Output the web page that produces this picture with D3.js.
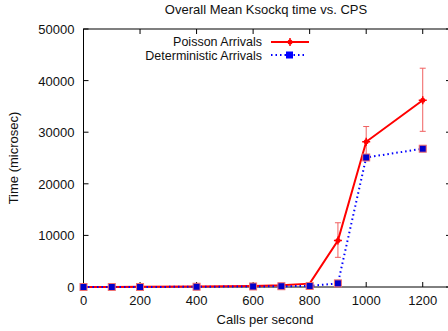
<!DOCTYPE html>
<html>
<head>
<meta charset="utf-8">
<script src="https://cdn.jsdelivr.net/npm/d3@7"></script>
<style>
body { margin: 0; background: #fff; }
text { font-family: "Liberation Sans", Arial, sans-serif; font-size: 13px; fill: #111; }
text.legend { font-size: 12.5px; }
</style>
</head>
<body>
<div id="chart"></div>
<script>
var width = 448;
var height = 331;
var margin = {top: 29, right: -3, bottom: 44, left: 83.5};
var w = width - margin.left - margin.right;
var h = height - margin.top - margin.bottom;

var cps = [0, 100, 200, 400, 600, 700, 800, 900, 1000, 1200];
var poisson = [0, 0, 50, 100, 200, 350, 650, 9000, 28150, 36200];
var poissonLow = [0, 0, 0, 0, 0, 0, 0, 5750, 25300, 30170];
var poissonHigh = [0, 0, 0, 0, 0, 0, 0, 12450, 31100, 42400];
var determ = [0, 0, 0, 50, 100, 150, 200, 700, 25100, 26800];
var xTicks = [0, 200, 400, 600, 800, 1000, 1200];
var yTicks = [0, 10000, 20000, 30000, 40000, 50000];

var x = d3.scaleLinear().domain([0, 1300]).range([0, w]);
var y = d3.scaleLinear().domain([0, 50000]).range([h, 0]);

var svg = d3.select("#chart").append("svg")
  .attr("width", width)
  .attr("height", height);

var g = svg.append("g")
  .attr("transform", "translate(" + margin.left + "," + margin.top + ")");

// frame
g.append("rect")
  .attr("x", 0).attr("y", 0).attr("width", w).attr("height", h)
  .attr("fill", "none").attr("stroke", "#000").attr("stroke-width", 1);

// ticks (inward, mirrored)
xTicks.forEach(function(t) {
  g.append("line").attr("x1", x(t)).attr("x2", x(t)).attr("y1", h).attr("y2", h - 5).attr("stroke", "#000");
  g.append("line").attr("x1", x(t)).attr("x2", x(t)).attr("y1", 0).attr("y2", 5).attr("stroke", "#000");
  g.append("text").attr("x", x(t)).attr("y", h + 18).attr("text-anchor", "middle").text(t);
});
yTicks.forEach(function(t) {
  g.append("line").attr("x1", 0).attr("x2", 5).attr("y1", y(t)).attr("y2", y(t)).attr("stroke", "#000");
  g.append("line").attr("x1", w).attr("x2", w - 5).attr("y1", y(t)).attr("y2", y(t)).attr("stroke", "#000");
  g.append("text").attr("x", -9).attr("y", y(t) + 5).attr("text-anchor", "end").text(t);
});

// labels
svg.append("text").attr("x", 266).attr("y", 14).attr("text-anchor", "middle").text("Overall Mean Ksockq time vs. CPS");
svg.append("text").attr("x", 265).attr("y", 324).attr("text-anchor", "middle").text("Calls per second");
svg.append("text").attr("transform", "translate(18," + (margin.top + h / 2) + ") rotate(-90)")
  .attr("text-anchor", "middle").text("Time (microsec)");

var pData = cps.map(function(c, i) { return {x: c, y: poisson[i], lo: poissonLow[i], hi: poissonHigh[i]}; });
var dData = cps.map(function(c, i) { return {x: c, y: determ[i]}; });

var line = d3.line().x(function(d) { return x(d.x); }).y(function(d) { return y(d.y); });

// error bars
pData.filter(function(d) { return d.hi > 0; }).forEach(function(d) {
  var ge = g.append("g").attr("stroke", "#f06060").attr("stroke-width", 1);
  ge.append("line").attr("x1", x(d.x)).attr("x2", x(d.x)).attr("y1", y(d.lo)).attr("y2", y(d.hi));
  ge.append("line").attr("x1", x(d.x) - 3).attr("x2", x(d.x) + 3).attr("y1", y(d.lo)).attr("y2", y(d.lo));
  ge.append("line").attr("x1", x(d.x) - 3).attr("x2", x(d.x) + 3).attr("y1", y(d.hi)).attr("y2", y(d.hi));
});

g.append("path").datum(pData).attr("d", line)
  .attr("fill", "none").attr("stroke", "#ff0000").attr("stroke-width", 2);
g.append("path").datum(dData).attr("d", line)
  .attr("fill", "none").attr("stroke", "#0000ff").attr("stroke-width", 2).attr("stroke-dasharray", "1.5,3");

function poissonMark(sel, cx, cy) {
  sel.append("circle").attr("cx", cx).attr("cy", cy).attr("r", 2.5).attr("fill", "#ff0000");
  sel.append("path").attr("d", "M" + (cx - 4) + "," + cy + "h8M" + cx + "," + (cy - 4) + "v8")
    .attr("stroke", "#ff0000").attr("stroke-width", 1.5);
}
function squareMark(sel, cx, cy) {
  sel.append("rect").attr("x", cx - 3.5).attr("y", cy - 3.5).attr("width", 7).attr("height", 7)
    .attr("fill", "#0000cc").attr("stroke", "#f07070").attr("stroke-width", 1);
}

dData.forEach(function(d) { squareMark(g, x(d.x), y(d.y)); });
pData.forEach(function(d) { if (d.y > 1000) poissonMark(g, x(d.x), y(d.y)); });

// legend
svg.append("text").attr("class", "legend").attr("x", 262).attr("y", 45.5).attr("text-anchor", "end").text("Poisson Arrivals");
svg.append("text").attr("class", "legend").attr("x", 262).attr("y", 59.5).attr("text-anchor", "end").text("Deterministic Arrivals");
svg.append("line").attr("x1", 271).attr("x2", 309).attr("y1", 42).attr("y2", 42).attr("stroke", "#ff0000").attr("stroke-width", 2);
poissonMark(svg, 290, 42);
svg.append("line").attr("x1", 271).attr("x2", 306).attr("y1", 55).attr("y2", 55).attr("stroke", "#0000ff").attr("stroke-width", 2).attr("stroke-dasharray", "1.5,3");
svg.append("rect").attr("x", 286).attr("y", 51.5).attr("width", 7).attr("height", 7).attr("fill", "#0000ff");
</script>
</body>
</html>
